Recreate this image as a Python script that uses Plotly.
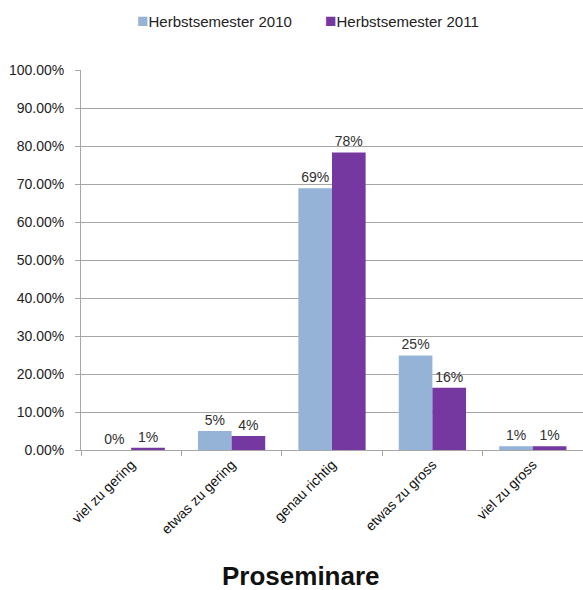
import plotly.graph_objects as go

categories = ["viel zu gering", "etwas zu gering", "genau richtig", "etwas zu gross", "viel zu gross"]
hs2010 = [0.0, 0.05, 0.689, 0.249, 0.01]
hs2011 = [0.006, 0.037, 0.783, 0.164, 0.01]
series_names = ["Herbstsemester 2010", "Herbstsemester 2011"]
series_colors = ["#95B3D7", "#7538A0"]
y_ticks = [i / 10 for i in range(11)]

L, R, T, B, W, H = 81, 0, 70, 140, 583, 590
PW = W - L - R

fig = go.Figure()
for name, vals, col in zip(series_names, [hs2010, hs2011], series_colors):
    fig.add_trace(go.Bar(
        x=categories, y=vals, name=name, marker=dict(color=col, line=dict(width=0)),
        texttemplate="%{y:.0%}", textposition="outside", cliponaxis=False,
        textfont=dict(family="Liberation Sans, Arial", size=14, color="#303030"),
    ))

fig.update_layout(
    width=W, height=H,
    margin=dict(l=L, r=R, t=T, b=B, autoexpand=False),
    paper_bgcolor="white", plot_bgcolor="white",
    barmode="group", bargap=0.33, bargroupgap=0,
    font=dict(family="Liberation Sans, Arial", size=13, color="#222"),
    showlegend=False,
)
fig.update_yaxes(range=[0, 1], tickvals=y_ticks, tickformat=".2%", showgrid=True, automargin=False,
                 gridcolor="#A6A6A6", gridwidth=1, showline=True, linecolor="#A6A6A6",
                 ticks="outside", ticklen=5, tickcolor="#A6A6A6", zeroline=False,
                 ticklabelstandoff=8, tickfont=dict(size=14, color="#222"))
fig.update_xaxes(showline=True, linecolor="#A6A6A6", ticks="outside", tickson="boundaries", automargin=False,
                 ticklen=5, tickcolor="#A6A6A6", tickangle=-45,
                 tickfont=dict(size=14, color="#111"))

# legend drawn as text with coloured squares
for name, col, px in zip(series_names, series_colors, [135, 323]):
    fig.add_annotation(
        text=f"<span style='color:{col};font-size:19px'>■</span>{name}",
        xref="paper", yref="paper", x=(px - L) / PW, y=1, yshift=T - 20,
        xanchor="left", yanchor="middle", showarrow=False,
        font=dict(size=15, color="#222"))

fig.add_annotation(text="<b>Proseminare</b>", xref="paper", yref="paper", x=(301 - L) / PW, y=0,
                   yshift=-(576 - (H - B)), showarrow=False, font=dict(size=26, color="#111"),
                   yanchor="middle")

fig.write_html("out.html", config={"displayModeBar": False},
               post_script="document.body.style.margin='0';document.body.style.overflow='hidden';")
